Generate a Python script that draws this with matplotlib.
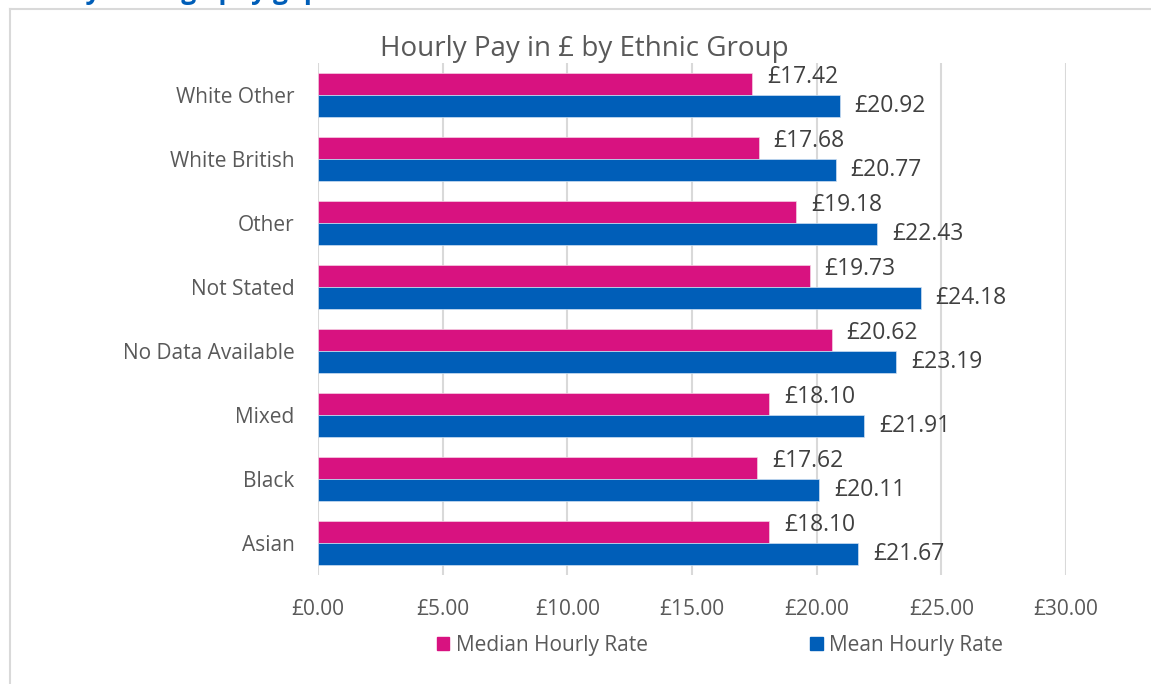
import numpy as np
import matplotlib.pyplot as plt
from matplotlib.lines import Line2D
from matplotlib.patches import Patch

groups = ['Asian', 'Black', 'Mixed', 'No Data Available', 'Not Stated',
          'Other', 'White British', 'White Other']
median_rate = [18.10, 17.62, 18.10, 20.62, 19.73, 19.18, 17.68, 17.42]
mean_rate = [21.67, 20.11, 21.91, 23.19, 24.18, 22.43, 20.77, 20.92]
xticks = [0, 5, 10, 15, 20, 25, 30]

pink = '#D81280'
blue = '#005EB8'
grey_txt = '#595959'
grid = '#D9D9D9'

plt.rcParams['font.family'] = ['Open Sans', 'DejaVu Sans']

fig = plt.figure(figsize=(11.51, 6.84), dpi=100)
ax = fig.add_axes([318/1151, 1 - 575/684, 748/1151, 512/684])

y = np.arange(len(groups))
h = 22/64
ax.barh(y + h/2, median_rate, height=h, color=pink, edgecolor='#f5d0e3', linewidth=0.5, zorder=3)
ax.barh(y - h/2, mean_rate, height=h, color=blue, edgecolor='#cfe0f2', linewidth=0.5, zorder=3)

for i in range(len(groups)):
    ax.annotate(f'£{median_rate[i]:.2f}', (median_rate[i], y[i] + h/2),
                xytext=(10.5, 5), textcoords='offset points', va='center', ha='left',
                fontsize=16.5, color='#404040')
    ax.annotate(f'£{mean_rate[i]:.2f}', (mean_rate[i], y[i] - h/2),
                xytext=(10.5, 0), textcoords='offset points', va='center', ha='left',
                fontsize=16.5, color='#404040')

ax.set_xlim(0, 30)
ax.set_ylim(-0.5, len(groups) - 0.5)
ax.set_xticks(xticks)
ax.set_xticklabels([f'£{v:.2f}' for v in xticks])
ax.set_yticks(y)
ax.set_yticklabels(groups)
ax.tick_params(axis='x', length=0, pad=17, labelsize=15, labelcolor=grey_txt)
ax.tick_params(axis='y', length=0, pad=17, labelsize=15, labelcolor=grey_txt)
ax.grid(axis='x', color=grid, linewidth=1.5, zorder=0)
for s in ax.spines.values():
    s.set_visible(False)

fig.text(584/1151, 1 - 49/684, 'Hourly Pay in £ by Ethnic Group', ha='center', va='center',
         fontsize=20, color=grey_txt)

# heading above the chart box, cut off by the top edge as in the source
fig.text(12/1151, 1 + 1/684, 'Hourly average pay gap', ha='left', va='baseline',
         fontsize=19, fontweight='bold', color=blue)

# chart frame (left and top edges only visible)
fig.add_artist(Line2D([10/1151, 10/1151], [0, 1 - 9/684], transform=fig.transFigure,
                      color='#D9D9D9', linewidth=1.5))
fig.add_artist(Line2D([10/1151, 1], [1 - 9/684, 1 - 9/684], transform=fig.transFigure,
                      color='#D9D9D9', linewidth=1.5))

handles = [Patch(color=pink), Patch(color=blue)]
fig.legend(handles, ['Median Hourly Rate', 'Mean Hourly Rate'], loc='center',
           bbox_to_anchor=(720/1151, 1 - 645/684), ncol=2, frameon=False,
           fontsize=15, labelcolor=grey_txt, handlelength=0.6, handleheight=0.6,
           handletextpad=0.3, columnspacing=7.8)

fig.savefig('out.png', dpi=100)
